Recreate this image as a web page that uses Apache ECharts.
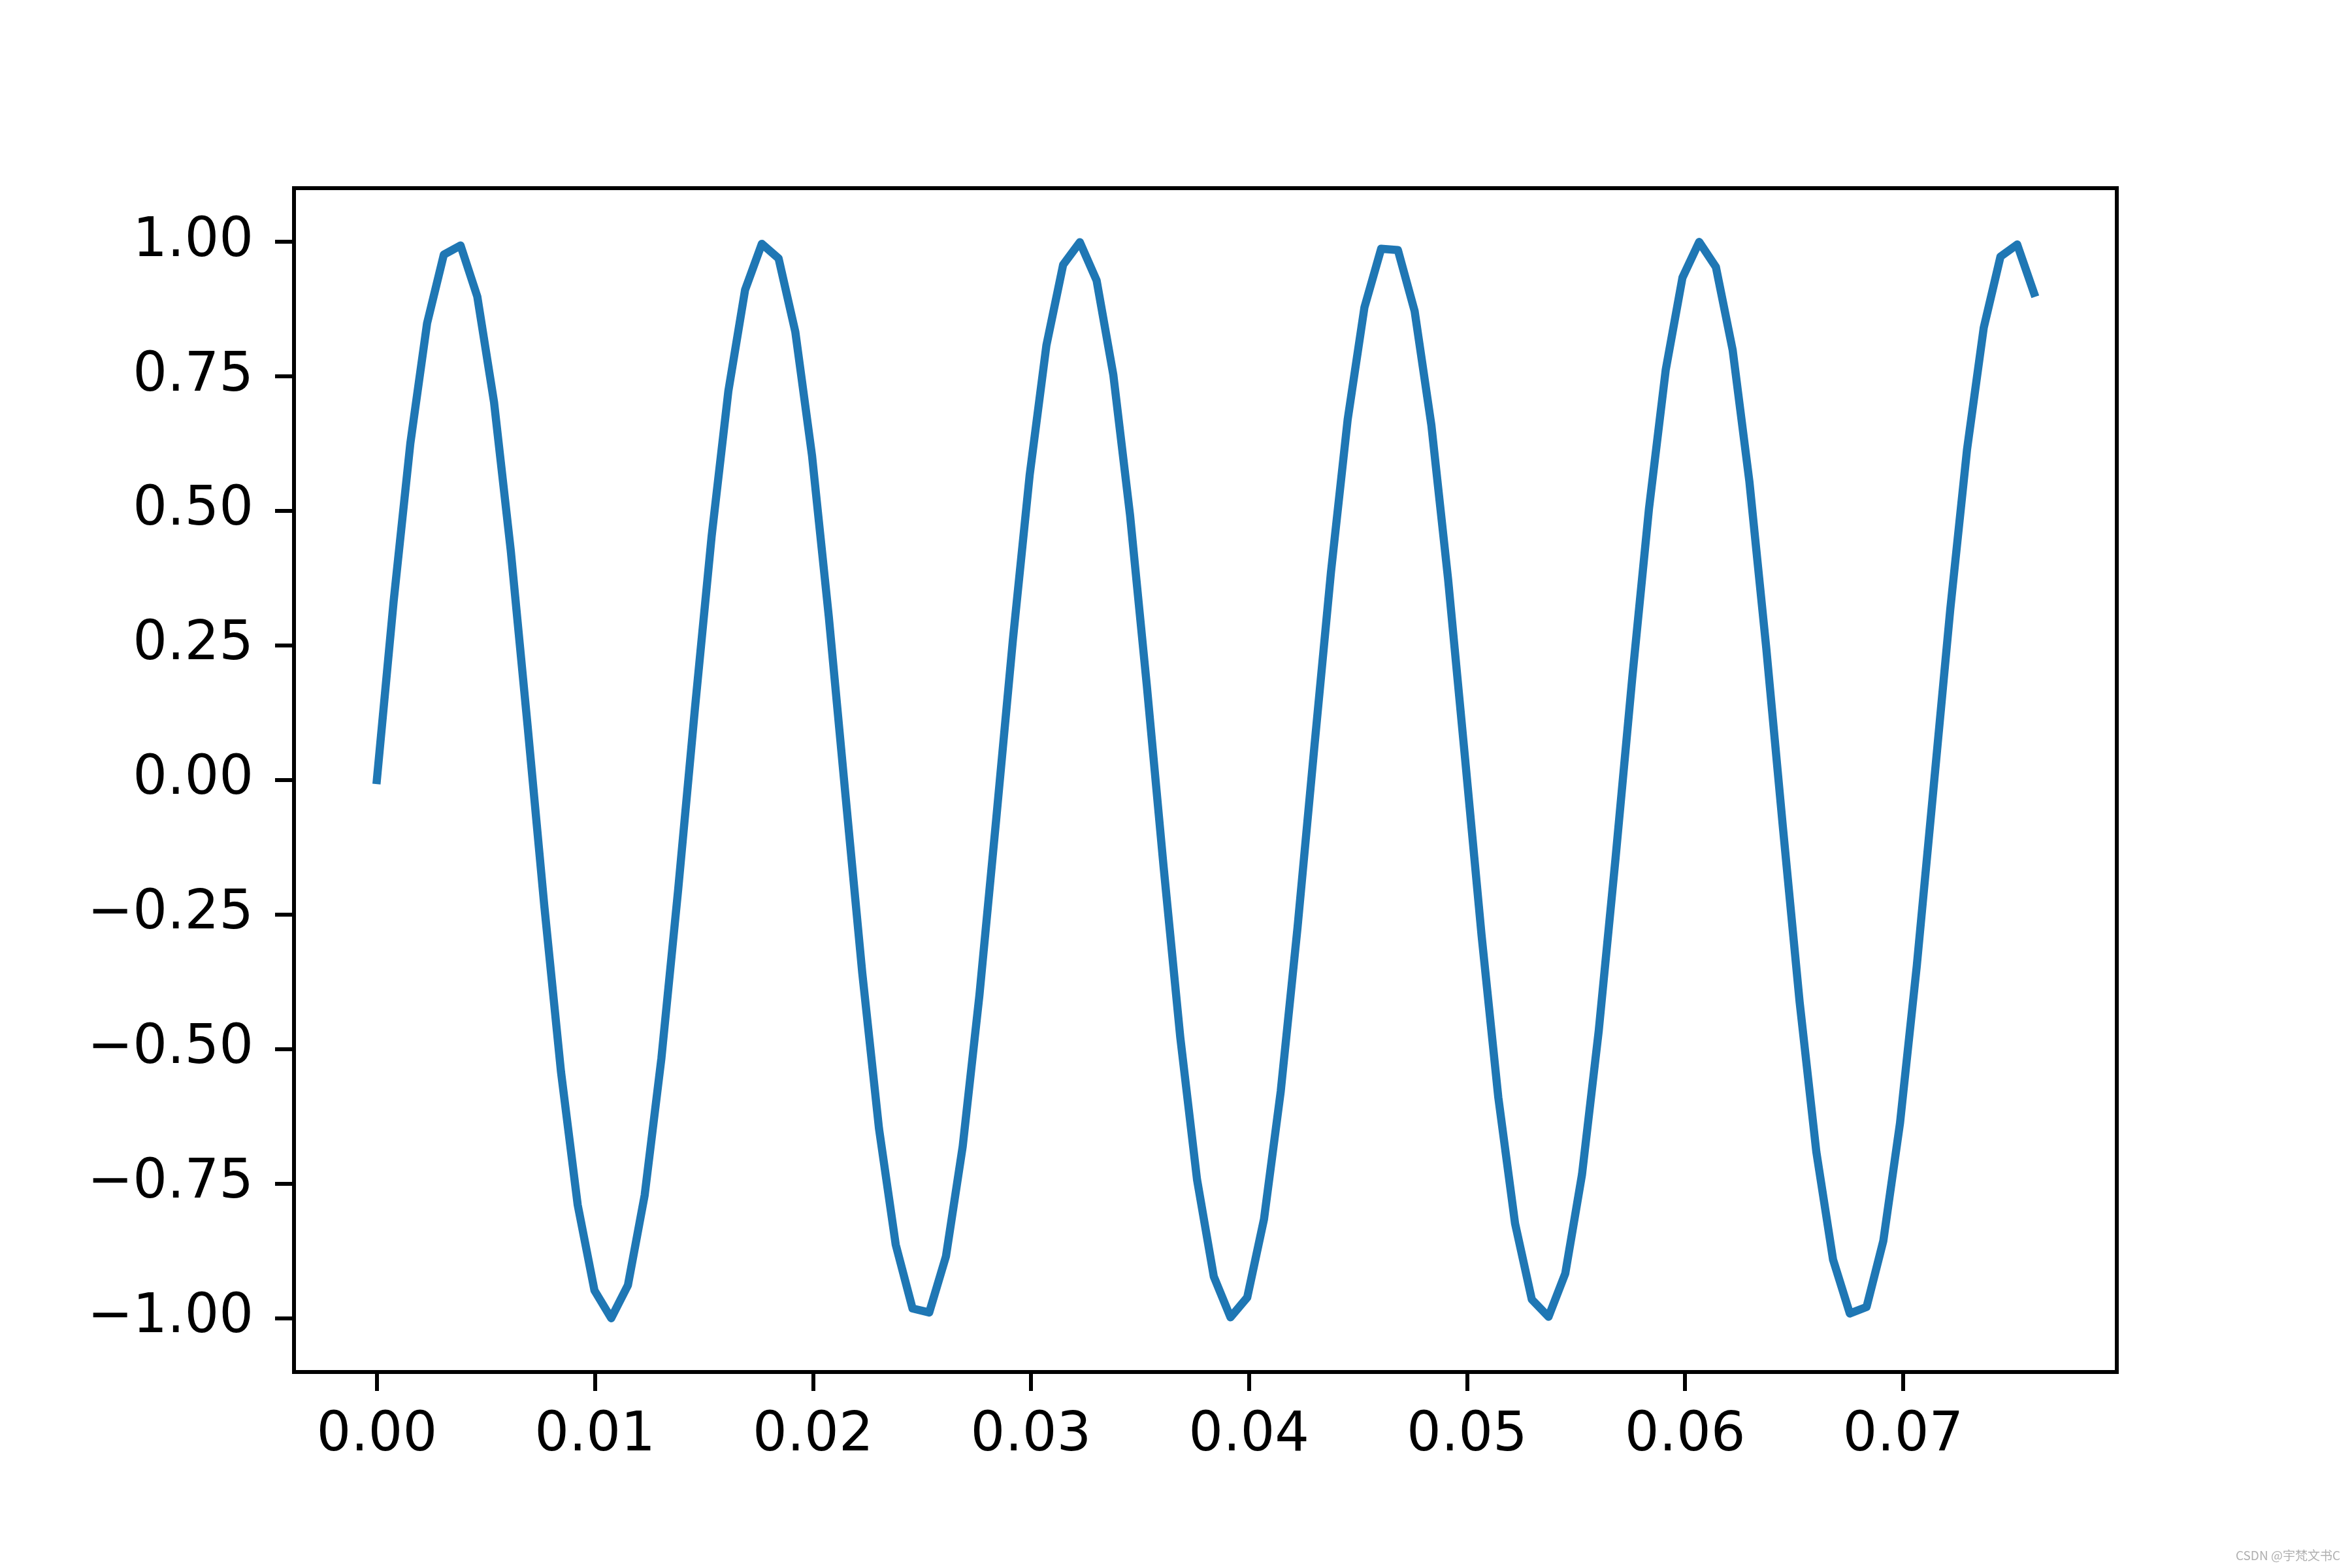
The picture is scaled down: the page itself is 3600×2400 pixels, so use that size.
<!DOCTYPE html>
<html>
<head>
<meta charset="utf-8">
<script src="https://cdn.jsdelivr.net/npm/echarts@6/dist/echarts.min.js"></script>
<style>
html,body{margin:0;padding:0;background:#fff;}
#chart{width:3600px;height:2400px;}
</style>
</head>
<body>
<div id="chart"></div>
<script>
// time samples (s)
const timeValues = [
0.000000,0.000768,0.001535,0.002303,0.003071,0.003838,0.004606,0.005374,0.006141,0.006909,
0.007677,0.008444,0.009212,0.009980,0.010747,0.011515,0.012283,0.013051,0.013818,0.014586,
0.015354,0.016121,0.016889,0.017657,0.018424,0.019192,0.019960,0.020727,0.021495,0.022263,
0.023030,0.023798,0.024566,0.025333,0.026101,0.026869,0.027636,0.028404,0.029172,0.029939,
0.030707,0.031475,0.032242,0.033010,0.033778,0.034545,0.035313,0.036081,0.036848,0.037616,
0.038384,0.039152,0.039919,0.040687,0.041455,0.042222,0.042990,0.043758,0.044525,0.045293,
0.046061,0.046828,0.047596,0.048364,0.049131,0.049899,0.050667,0.051434,0.052202,0.052970,
0.053737,0.054505,0.055273,0.056040,0.056808,0.057576,0.058343,0.059111,0.059879,0.060646,
0.061414,0.062182,0.062949,0.063717,0.064485,0.065253,0.066020,0.066788,0.067556,0.068323,
0.069091,0.069859,0.070626,0.071394,0.072162,0.072929,0.073697,0.074465,0.075232,0.076000
];
// signal values
const signalValues = [
0.0000,0.3313,0.6251,0.8484,0.9759,0.9931,0.8982,0.7019,0.4264,0.1026,
-0.2327,-0.5417,-0.7896,-0.9483,-0.9999,-0.9386,-0.7713,-0.5169,-0.2042,0.1316,
0.4526,0.7224,0.9107,0.9961,0.9691,0.8326,0.6021,0.3036,-0.0292,-0.3587,
-0.6476,-0.8635,-0.9818,-0.9893,-0.8850,-0.6808,-0.3998,-0.0736,0.2610,0.5660,
0.8072,0.9571,0.9990,0.9281,0.7524,0.4917,0.1755,-0.1605,-0.4784,-0.7423,
-0.9224,-0.9983,-0.9614,-0.8160,-0.5785,-0.2756,0.0584,0.3858,0.6696,0.8778,
0.9869,0.9846,0.8711,0.6592,0.3728,0.0444,-0.2890,-0.5898,-0.8240,-0.9652,
-0.9973,-0.9169,-0.7329,-0.4661,-0.1467,0.1893,0.5038,0.7615,0.9332,0.9996,
0.9530,0.7988,0.5545,0.2475,-0.0875,-0.4125,-0.6910,-0.8914,-0.9912,-0.9791,
-0.8564,-0.6369,-0.3456,-0.0152,0.3169,0.6132,0.8402,0.9724,0.9948,0.9048
];
const xTickValues = [0, 0.01, 0.02, 0.03, 0.04, 0.05, 0.06, 0.07];
const yTickValues = [-1, -0.75, -0.5, -0.25, 0, 0.25, 0.5, 0.75, 1];

const points = timeValues.map((t, i) => [t, signalValues[i]]);
const fmt = v => (v < 0 ? '\u2212' : '') + Math.abs(v).toFixed(2);
const labelFont = {fontFamily: 'DejaVu Sans', fontSize: 83, color: '#000'};

const chart = echarts.init(document.getElementById('chart'), null, {renderer: 'canvas'});
chart.setOption({
  animation: false,
  backgroundColor: '#ffffff',
  grid: {left: 450, right: 360, top: 288, bottom: 300, show: true,
         borderColor: '#000', borderWidth: 6, backgroundColor: 'transparent', z: 4},
  xAxis: {
    type: 'value', min: -0.0038, max: 0.0798,
    axisLine: {show: false, onZero: false},
    splitLine: {show: false},
    axisTick: {show: true, length: 29, lineStyle: {color: '#000', width: 6}, customValues: xTickValues},
    axisLabel: Object.assign({margin: 57, formatter: fmt, customValues: xTickValues}, labelFont)
  },
  yAxis: {
    type: 'value', min: -1.0999, max: 1.0995,
    axisLine: {show: false, onZero: false},
    splitLine: {show: false},
    axisTick: {show: true, length: 29, lineStyle: {color: '#000', width: 6}, customValues: yTickValues},
    axisLabel: Object.assign({margin: 62, padding: [18, 0, 0, 0], formatter: fmt, customValues: yTickValues}, labelFont)
  },
  series: [{
    type: 'line', data: points, showSymbol: false, symbol: 'none',
    lineStyle: {color: '#1f77b4', width: 12.5, cap: 'square', join: 'round'},
    z: 3
  }],
  graphic: [{
    type: 'text', right: 18, bottom: 10,
    style: {text: 'CSDN @宇梵文书C', fontFamily: 'Noto Sans CJK SC', fontSize: 19, fill: '#b0b0b0'}
  }]
});
</script>
</body>
</html>
